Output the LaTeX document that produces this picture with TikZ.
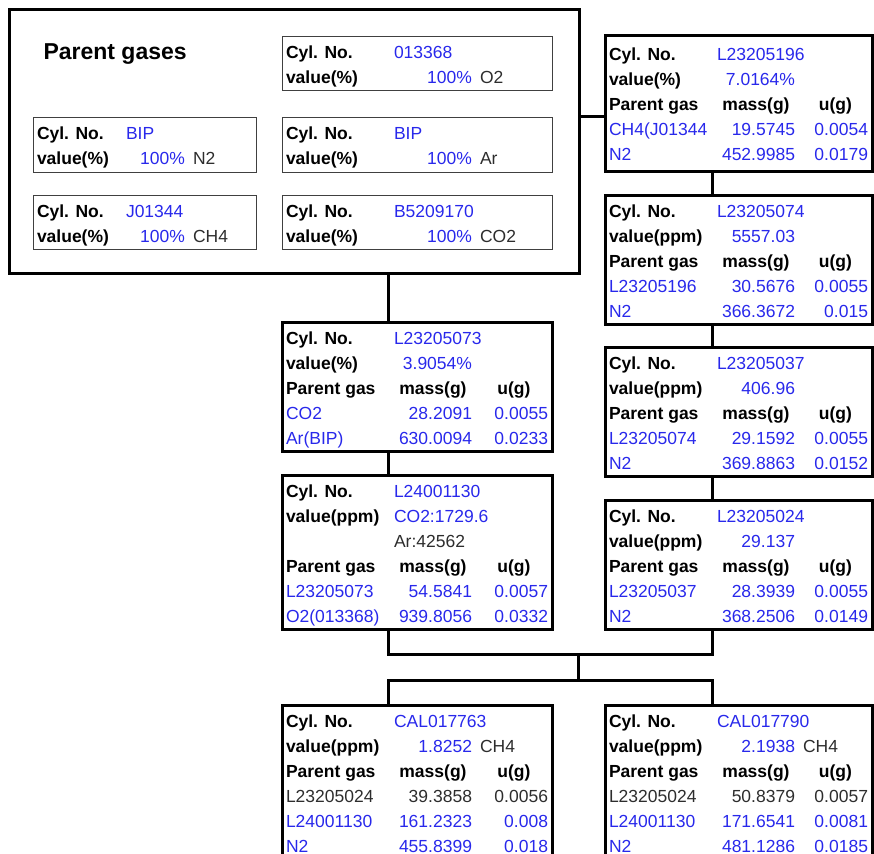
\documentclass[tikz,border=0pt]{standalone}
\usepackage{fontspec}
\setmainfont{Liberation Sans}
\usepackage{array}
\usepackage{xcolor}
\usepackage{tikz}
\usetikzlibrary{positioning, calc}
\definecolor{cellblue}{RGB}{40,40,235}
\definecolor{celltext}{RGB}{45,45,45}
\newcommand{\cellfont}{\fontsize{17.5}{21}\selectfont}
\newcommand{\rowstrut}{\rule[-5pt]{0pt}{25pt}}
\newcommand{\bl}[1]{\textcolor{cellblue}{#1}}
\newcommand{\dk}[1]{\textcolor{celltext}{#1}}
\newcommand{\hd}[1]{\textbf{#1}}
\newcommand{\cellL}[1]{\makebox[\linewidth][l]{#1}}
\newcommand{\cellR}[1]{\makebox[\linewidth][r]{#1}}
\newcommand{\cellC}[1]{\makebox[\linewidth][c]{#1}}
\newcommand{\headrow}{\hd{Parent gas} & \cellC{\hd{mass(g)}} & \cellC{\hd{u(g)}} \\}
\newcommand{\massrow}[3]{\bl{#1} & \cellR{\bl{#2}} & \cellR{\bl{#3}} \\}
\newcommand{\darkrow}[3]{\dk{#1} & \cellR{\dk{#2}} & \cellR{\dk{#3}} \\}
\newcolumntype{A}{>{\rowstrut}p{100pt}}
\newcolumntype{B}{p{78pt}}
\newcolumntype{C}{p{68pt}}
\newcolumntype{D}{p{65pt}}
\newcolumntype{E}{>{\rowstrut}p{81pt}}
\newcolumntype{F}{p{59pt}}
\renewcommand{\arraystretch}{0.7}
\setlength{\tabcolsep}{4pt}
\tikzset{
    cyl_box/.style = {draw=black, line width=3pt, inner xsep=0pt, inner ysep=2pt,
        outer sep=0pt, anchor=north west, font=\cellfont},
    gas_box/.style = {draw=black!75, line width=1pt, inner xsep=0pt, inner ysep=2pt,
        outer sep=0pt, anchor=north west, font=\cellfont},
    parent_box/.style = {draw=black, line width=3pt, inner sep=0pt, outer sep=0pt,
        anchor=north west, minimum width=570pt, minimum height=263pt},
    link/.style = {draw=black, line width=3pt},
}

\begin{document}
\begin{tikzpicture}[x=1pt, y=-1pt]
        \useasboundingbox (0,0) rectangle (874,853);
        \clip (0,0) rectangle (874,853);
        % parent gases
        \node [parent_box] (parent) at (9,10) {};
        \node [anchor=base west, font=\bfseries\fontsize{23}{26}\selectfont] (title) at (40,60) {Parent gases};
        \node [gas_box] (gasO2) at (282,37) {\begin{tabular}{ABC}
            \hd{Cyl. No.} & \cellL{\bl{013368}} & \\
            \hd{value(\%)} & \cellR{\bl{100\%}} & \dk{O2}
        \end{tabular}};
        \node [gas_box] (gasN2) at (33,118) {\begin{tabular}{EFF}
            \hd{Cyl. No.} & \bl{BIP} & \\
            \hd{value(\%)} & \cellR{\bl{100\%}} & \dk{N2}
        \end{tabular}};
        \node [gas_box] (gasAr) at (282,118) {\begin{tabular}{ABC}
            \hd{Cyl. No.} & \bl{BIP} & \\
            \hd{value(\%)} & \cellR{\bl{100\%}} & \dk{Ar}
        \end{tabular}};
        \node [gas_box] (gasCH4) at (33,195) {\begin{tabular}{EFF}
            \hd{Cyl. No.} & \bl{J01344} & \\
            \hd{value(\%)} & \cellR{\bl{100\%}} & \dk{CH4}
        \end{tabular}};
        \node [gas_box] (gasCO2) at (282,195) {\begin{tabular}{ABC}
            \hd{Cyl. No.} & \cellL{\bl{B5209170}} & \\
            \hd{value(\%)} & \cellR{\bl{100\%}} & \dk{CO2}
        \end{tabular}};
        % left column
        \node [cyl_box] (cyl073) at (282,322) {\begin{tabular}{ABC}
            \hd{Cyl. No.} & \cellL{\bl{L23205073}} & \\
            \hd{value(\%)} & \cellR{\bl{3.9054\%}} & \\
            \headrow
            \massrow{CO2}{28.2091}{0.0055}
            \massrow{Ar(BIP)}{630.0094}{0.0233}
        \end{tabular}};
        \node [cyl_box, below=24pt of cyl073] (cyl130) {\begin{tabular}{ABC}
            \hd{Cyl. No.} & \cellL{\bl{L24001130}} & \\
            \hd{value(ppm)} & \cellL{\bl{CO2:1729.6}} & \\
             & \dk{Ar:42562} & \\
            \headrow
            \massrow{L23205073}{54.5841}{0.0057}
            \massrow{O2(013368)}{939.8056}{0.0332}
        \end{tabular}};
        % right column
        \node [cyl_box, minimum height=135pt] (cyl196) at (605,36) {\begin{tabular}{ABD}
            \hd{Cyl. No.} & \cellL{\bl{L23205196}} & \\
            \hd{value(\%)} & \cellR{\bl{7.0164\%}} & \\
            \headrow
            \massrow{\cellL{CH4(J01344}}{19.5745}{0.0054}
            \massrow{N2}{452.9985}{0.0179}
        \end{tabular}};
        \node [cyl_box, below=24pt of cyl196] (cyl074) {\begin{tabular}{ABD}
            \hd{Cyl. No.} & \cellL{\bl{L23205074}} & \\
            \hd{value(ppm)} & \cellR{\bl{5557.03}} & \\
            \headrow
            \massrow{L23205196}{30.5676}{0.0055}
            \massrow{N2}{366.3672}{0.015}
        \end{tabular}};
        \node [cyl_box, below=23.5pt of cyl074] (cyl037) {\begin{tabular}{ABD}
            \hd{Cyl. No.} & \cellL{\bl{L23205037}} & \\
            \hd{value(ppm)} & \cellR{\bl{406.96}} & \\
            \headrow
            \massrow{L23205074}{29.1592}{0.0055}
            \massrow{N2}{369.8863}{0.0152}
        \end{tabular}};
        \node [cyl_box, below=24pt of cyl037] (cyl024) {\begin{tabular}{ABD}
            \hd{Cyl. No.} & \cellL{\bl{L23205024}} & \\
            \hd{value(ppm)} & \cellR{\bl{29.137}} & \\
            \headrow
            \massrow{L23205037}{28.3939}{0.0055}
            \massrow{N2}{368.2506}{0.0149}
        \end{tabular}};
        % calibration gases
        \node [cyl_box] (cal763) at (282,705) {\begin{tabular}{ABC}
            \hd{Cyl. No.} & \cellL{\bl{CAL017763}} & \\
            \hd{value(ppm)} & \cellR{\bl{1.8252}} & \dk{CH4} \\
            \headrow
            \darkrow{L23205024}{39.3858}{0.0056}
            \massrow{L24001130}{161.2323}{0.008}
            \massrow{N2}{455.8399}{0.018}
        \end{tabular}};
        \node [cyl_box] (cal790) at (605,705) {\begin{tabular}{ABD}
            \hd{Cyl. No.} & \cellL{\bl{CAL017790}} & \\
            \hd{value(ppm)} & \cellR{\bl{2.1938}} & \dk{CH4} \\
            \headrow
            \darkrow{L23205024}{50.8379}{0.0057}
            \massrow{L24001130}{171.6541}{0.0081}
            \massrow{N2}{481.1286}{0.0185}
        \end{tabular}};
        % connectors
        \coordinate (colL) at (388,0);
        \coordinate (colR) at (712,0);
        \coordinate (tap) at ($(cyl196.north west)!0.6!(cyl196.south west)$);
        \coordinate (joinU) at (578,654);
        \coordinate (joinD) at (578,680);
        \draw [link] (tap -| parent.east) -- (tap);
        \draw [link] (parent.south -| colL) -- (cyl073.north -| colL);
        \draw [link] (cyl073.south -| colL) -- (cyl130.north -| colL);
        \foreach \a/\b in {cyl196/cyl074, cyl074/cyl037, cyl037/cyl024}
            \draw [link] (\a.south -| colR) -- (\b.north -| colR);
        \draw [link] (cyl130.south -| colL) |- (joinU) -| (cyl024.south -| colR);
        \draw [link] (joinU) -- (joinD);
        \draw [link] (cal763.north -| colL) |- (joinD) -| (cal790.north -| colR);
\end{tikzpicture}
\end{document}
